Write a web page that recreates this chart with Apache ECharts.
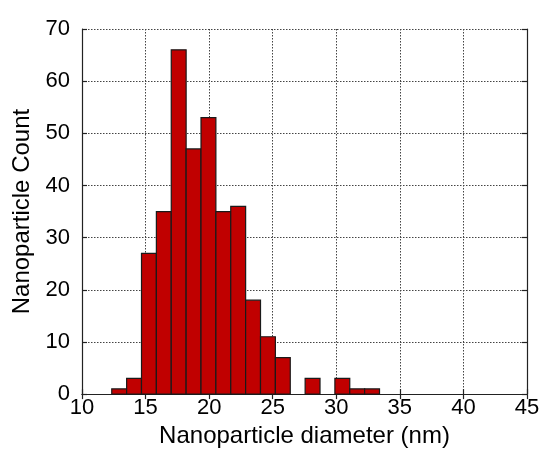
<!DOCTYPE html>
<html>
<head>
<meta charset="utf-8">
<script src="https://cdn.jsdelivr.net/npm/echarts@6/dist/echarts.min.js"></script>
<style>html,body{margin:0;padding:0;background:#fff;}#c{width:543px;height:453px;}</style>
</head>
<body>
<div id="c"></div>
<script>
// Histogram bin edges (nm) and counts
var binEdges = [12.34, 13.51, 14.68, 15.85, 17.02, 18.19, 19.36, 20.53, 21.70, 22.87, 24.04, 25.21, 26.38, 27.55, 28.72, 29.89, 31.06, 32.23, 33.40];
var counts = [1, 3, 27, 35, 66, 47, 53, 35, 36, 18, 11, 7, 0, 3, 0, 3, 1, 1];
var xTicks = [10, 15, 20, 25, 30, 35, 40, 45];
var yTicks = [0, 10, 20, 30, 40, 50, 60, 70];

var data = [];
for (var i = 0; i < counts.length; i++) {
  data.push([binEdges[i], binEdges[i + 1], counts[i]]);
}

var font = 'Liberation Sans, Arial, sans-serif';
var axisCommon = {
  axisLine: { show: true, lineStyle: { color: '#222', width: 1.2 } },
  axisTick: { show: true, inside: true, length: 5, lineStyle: { color: '#222', width: 1.2 } },
  splitLine: { show: false }
};

var chart = echarts.init(document.getElementById('c'), null, { renderer: 'canvas' });
chart.setOption({
  animation: false,
  backgroundColor: '#fff',
  grid: { left: 82, right: 16, top: 29, bottom: 56, containLabel: false },
  xAxis: [
    Object.assign({}, axisCommon, {
      type: 'value', min: xTicks[0], max: xTicks[xTicks.length - 1], interval: 5, position: 'bottom',
      name: 'Nanoparticle diameter (nm)', nameLocation: 'middle', nameGap: 28,
      nameTextStyle: { fontFamily: font, fontSize: 24, color: '#000' },
      axisLabel: { fontFamily: font, fontSize: 22, color: '#000', margin: 3 },
      splitLine: { show: true, lineStyle: { color: '#444', type: [1.5, 1.5], width: 1 } }
    }),
    Object.assign({}, axisCommon, {
      type: 'value', min: xTicks[0], max: xTicks[xTicks.length - 1], interval: 5, position: 'top',
      axisLabel: { show: false }
    })
  ],
  yAxis: [
    Object.assign({}, axisCommon, {
      type: 'value', min: yTicks[0], max: yTicks[yTicks.length - 1], interval: 10, position: 'left',
      name: 'Nanoparticle Count', nameLocation: 'middle', nameGap: 45,
      nameTextStyle: { fontFamily: font, fontSize: 24, color: '#000' },
      axisLabel: { fontFamily: font, fontSize: 22, color: '#000', margin: 12, padding: [0, 0, 7, 0] },
      splitLine: { show: true, lineStyle: { color: '#444', type: [1.5, 1.5], width: 1 } }
    }),
    Object.assign({}, axisCommon, {
      type: 'value', min: yTicks[0], max: yTicks[yTicks.length - 1], interval: 10, position: 'right',
      axisLabel: { show: false }
    })
  ],
  series: [{
    type: 'custom',
    xAxisIndex: 0, yAxisIndex: 0,
    data: data,
    encode: { x: [0, 1], y: 2 },
    renderItem: function (params, api) {
      var p0 = api.coord([api.value(0), 0]);
      var p1 = api.coord([api.value(1), api.value(2)]);
      if (api.value(2) <= 0) return null;
      return {
        type: 'rect',
        shape: { x: p0[0], y: p1[1], width: p1[0] - p0[0], height: p0[1] - p1[1] },
        style: { fill: '#C00000', stroke: '#1a1a1a', lineWidth: 1.2 }
      };
    }
  }]
});
</script>
</body>
</html>
